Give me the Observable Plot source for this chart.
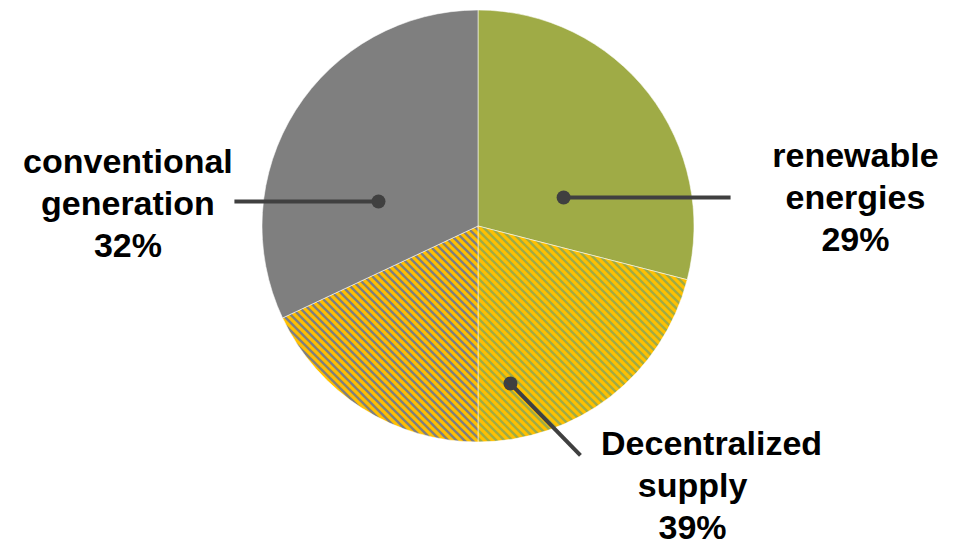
<!DOCTYPE html>
<html><head><meta charset="utf-8">
<script src="https://cdn.jsdelivr.net/npm/d3@7"></script>
<script src="https://cdn.jsdelivr.net/npm/@observablehq/plot@0.6"></script>
<style>html,body{margin:0;padding:0;background:#fff;}</style>
</head><body><div id="chart"></div>
<script>
// ---- data ----
const categories = ["renewable energies", "Decentralized supply", "conventional generation"];
const shares = [29, 39, 32];                 // percent
const decentralizedSplit = [21, 18];          // decentralized share: renewable-based, conventional-based

// ---- styles ----
const OLIVE = "#9FAB46", GREY = "#7F7F7F", YELLOW = "#FFC000", INK = "#404040";
const FONT = "'Liberation Sans', Arial, Helvetica, sans-serif";

// ---- layout (in pie-radius units, centre = 0,0) ----
const LINE_STEP = 0.1944;
const layout = {
  "renewable energies":      {dot: [0.394, 0.134],  end: [1.167, 0.134],  textX: [1.745, 1.745, 1.745], textY: 0.324},
  "Decentralized supply":    {dot: [0.148, -0.727], end: [0.472, -1.060], textX: [1.079, 0.991, 0.991], textY: -1.008},
  "conventional generation": {dot: [-0.463, 0.116], end: [-1.130, 0.116], textX: [-1.623, -1.623, -1.623], textY: 0.296}
};

// pie pieces, clockwise from 12 o'clock
const pieces = [
  {name: categories[0], value: shares[0], base: OLIVE, hatch: false},
  {name: categories[1], value: decentralizedSplit[0], base: OLIVE, hatch: true},
  {name: categories[1], value: decentralizedSplit[1], base: GREY, hatch: true},
  {name: categories[2], value: shares[2], base: GREY, hatch: false}
];

const annotations = categories.map((c, i) => ({name: c, share: shares[i], ...layout[c]}));
const textRows = annotations.flatMap(a => {
  const lines = [...a.name.split(" "), a.share + "%"];
  return lines.map((t, j) => ({text: t, x: a.textX[j], y: a.textY - j * LINE_STEP}));
});

function pieMark(index, scales) {
  const cx = scales.x(0), cy = scales.y(0), r = scales.x(1) - scales.x(0);
  const g = d3.create("svg:g");
  const defs = g.append("defs");
  const patId = base => "hatch" + base.slice(1);
  for (const base of [OLIVE, GREY]) {
    const p = defs.append("pattern").attr("id", patId(base))
      .attr("patternUnits", "userSpaceOnUse").attr("width", 8).attr("height", 8);
    p.append("rect").attr("width", 8).attr("height", 8).attr("fill", base);
    p.append("path").attr("d", "M-2,-2L10,10M-2,6L2,10M6,-2L10,2")
      .attr("stroke", YELLOW).attr("stroke-width", 3.1).attr("fill", "none");
  }
  const arcs = d3.pie().sort(null).value(d => d.value)(pieces);
  const arc = d3.arc().innerRadius(0).outerRadius(r);
  g.append("g").attr("transform", `translate(${cx},${cy})`)
    .selectAll("path").data(arcs).join("path")
    .attr("d", arc)
    .attr("fill", d => d.data.hatch ? `url(#${patId(d.data.base)})` : d.data.base)
    .attr("stroke", "#ffffff").attr("stroke-opacity", 0.55).attr("stroke-width", 1);
  return g.node();
}

const chart = Plot.plot({
  width: 960,
  height: 545,
  margin: 0,
  x: {domain: [-1, 1], range: [262, 694], axis: null},
  y: {domain: [-1, 1], range: [442, 10], axis: null},
  marks: [
    pieMark,
    Plot.link(annotations, {x1: d => d.dot[0], y1: d => d.dot[1], x2: d => d.end[0], y2: d => d.end[1],
      stroke: INK, strokeWidth: 4}),
    Plot.dot(annotations, {x: d => d.dot[0], y: d => d.dot[1], r: 7, fill: INK, stroke: "none"}),
    Plot.text(textRows, {x: "x", y: "y", text: "text", fontSize: 34, fontWeight: "bold",
      fontFamily: FONT, fill: "#000", textAnchor: "middle"})
  ]
});
chart.style.fontFamily = FONT;
document.getElementById("chart").appendChild(chart);
</script>
</body></html>
